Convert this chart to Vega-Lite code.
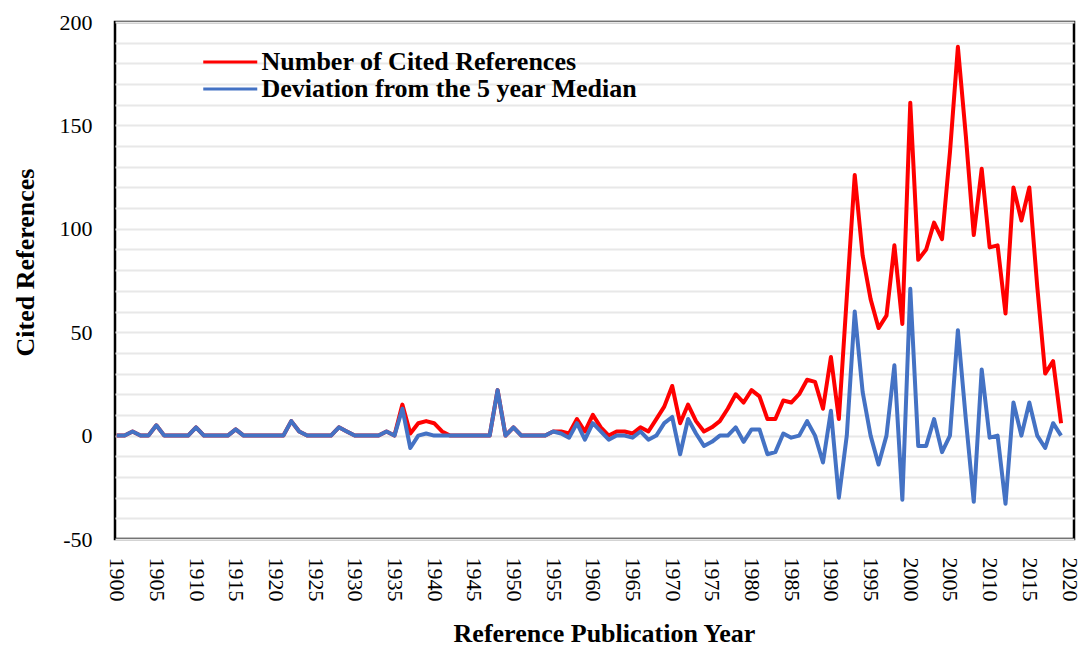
{
  "$schema": "https://vega.github.io/schema/vega-lite/v6.json",
  "width": 959,
  "height": 517,
  "autosize": {"type": "none"},
  "padding": {"left": 115, "top": 22, "right": 8, "bottom": 108},
  "background": "white",
  "config": {
    "font": "Liberation Serif",
    "view": {"stroke": "black", "strokeWidth": 2.5},
    "axis": {"labelFont": "Liberation Serif", "titleFont": "Liberation Serif", "labelColor": "black", "titleColor": "black"}
  },
  "data": {
    "values": [
      {"year": 1900, "cited": 0, "deviation": 0},
      {"year": 1901, "cited": 0, "deviation": 0},
      {"year": 1902, "cited": 2, "deviation": 2},
      {"year": 1903, "cited": 0, "deviation": 0},
      {"year": 1904, "cited": 0, "deviation": 0},
      {"year": 1905, "cited": 5, "deviation": 5},
      {"year": 1906, "cited": 0, "deviation": 0},
      {"year": 1907, "cited": 0, "deviation": 0},
      {"year": 1908, "cited": 0, "deviation": 0},
      {"year": 1909, "cited": 0, "deviation": 0},
      {"year": 1910, "cited": 4, "deviation": 4},
      {"year": 1911, "cited": 0, "deviation": 0},
      {"year": 1912, "cited": 0, "deviation": 0},
      {"year": 1913, "cited": 0, "deviation": 0},
      {"year": 1914, "cited": 0, "deviation": 0},
      {"year": 1915, "cited": 3, "deviation": 3},
      {"year": 1916, "cited": 0, "deviation": 0},
      {"year": 1917, "cited": 0, "deviation": 0},
      {"year": 1918, "cited": 0, "deviation": 0},
      {"year": 1919, "cited": 0, "deviation": 0},
      {"year": 1920, "cited": 0, "deviation": 0},
      {"year": 1921, "cited": 0, "deviation": 0},
      {"year": 1922, "cited": 7, "deviation": 7},
      {"year": 1923, "cited": 2, "deviation": 2},
      {"year": 1924, "cited": 0, "deviation": 0},
      {"year": 1925, "cited": 0, "deviation": 0},
      {"year": 1926, "cited": 0, "deviation": 0},
      {"year": 1927, "cited": 0, "deviation": 0},
      {"year": 1928, "cited": 4, "deviation": 4},
      {"year": 1929, "cited": 2, "deviation": 2},
      {"year": 1930, "cited": 0, "deviation": 0},
      {"year": 1931, "cited": 0, "deviation": 0},
      {"year": 1932, "cited": 0, "deviation": 0},
      {"year": 1933, "cited": 0, "deviation": 0},
      {"year": 1934, "cited": 2, "deviation": 2},
      {"year": 1935, "cited": 0, "deviation": 0},
      {"year": 1936, "cited": 15, "deviation": 13},
      {"year": 1937, "cited": 1, "deviation": -6},
      {"year": 1938, "cited": 6, "deviation": 0},
      {"year": 1939, "cited": 7, "deviation": 1},
      {"year": 1940, "cited": 6, "deviation": 0},
      {"year": 1941, "cited": 2, "deviation": 0},
      {"year": 1942, "cited": 0, "deviation": 0},
      {"year": 1943, "cited": 0, "deviation": 0},
      {"year": 1944, "cited": 0, "deviation": 0},
      {"year": 1945, "cited": 0, "deviation": 0},
      {"year": 1946, "cited": 0, "deviation": 0},
      {"year": 1947, "cited": 0, "deviation": 0},
      {"year": 1948, "cited": 22, "deviation": 22},
      {"year": 1949, "cited": 0, "deviation": 0},
      {"year": 1950, "cited": 4, "deviation": 4},
      {"year": 1951, "cited": 0, "deviation": 0},
      {"year": 1952, "cited": 0, "deviation": 0},
      {"year": 1953, "cited": 0, "deviation": 0},
      {"year": 1954, "cited": 0, "deviation": 0},
      {"year": 1955, "cited": 2, "deviation": 2},
      {"year": 1956, "cited": 2, "deviation": 1},
      {"year": 1957, "cited": 1, "deviation": -1},
      {"year": 1958, "cited": 8, "deviation": 6},
      {"year": 1959, "cited": 2, "deviation": -2},
      {"year": 1960, "cited": 10, "deviation": 6},
      {"year": 1961, "cited": 4, "deviation": 2},
      {"year": 1962, "cited": 0, "deviation": -2},
      {"year": 1963, "cited": 2, "deviation": 0},
      {"year": 1964, "cited": 2, "deviation": 0},
      {"year": 1965, "cited": 1, "deviation": -1},
      {"year": 1966, "cited": 4, "deviation": 2},
      {"year": 1967, "cited": 2, "deviation": -2},
      {"year": 1968, "cited": 8, "deviation": 0},
      {"year": 1969, "cited": 14, "deviation": 6},
      {"year": 1970, "cited": 24, "deviation": 9},
      {"year": 1971, "cited": 6, "deviation": -9},
      {"year": 1972, "cited": 15, "deviation": 8},
      {"year": 1973, "cited": 7, "deviation": 1},
      {"year": 1974, "cited": 2, "deviation": -5},
      {"year": 1975, "cited": 4, "deviation": -3},
      {"year": 1976, "cited": 7, "deviation": 0},
      {"year": 1977, "cited": 13, "deviation": 0},
      {"year": 1978, "cited": 20, "deviation": 4},
      {"year": 1979, "cited": 16, "deviation": -3},
      {"year": 1980, "cited": 22, "deviation": 3},
      {"year": 1981, "cited": 19, "deviation": 3},
      {"year": 1982, "cited": 8, "deviation": -9},
      {"year": 1983, "cited": 8, "deviation": -8},
      {"year": 1984, "cited": 17, "deviation": 1},
      {"year": 1985, "cited": 16, "deviation": -1},
      {"year": 1986, "cited": 20, "deviation": 0},
      {"year": 1987, "cited": 27, "deviation": 7},
      {"year": 1988, "cited": 26, "deviation": 0},
      {"year": 1989, "cited": 13, "deviation": -13},
      {"year": 1990, "cited": 38, "deviation": 12},
      {"year": 1991, "cited": 8, "deviation": -30},
      {"year": 1992, "cited": 67, "deviation": 0},
      {"year": 1993, "cited": 126, "deviation": 60},
      {"year": 1994, "cited": 87, "deviation": 21},
      {"year": 1995, "cited": 66, "deviation": 0},
      {"year": 1996, "cited": 52, "deviation": -14},
      {"year": 1997, "cited": 58, "deviation": 0},
      {"year": 1998, "cited": 92, "deviation": 34},
      {"year": 1999, "cited": 54, "deviation": -31},
      {"year": 2000, "cited": 161, "deviation": 71},
      {"year": 2001, "cited": 85, "deviation": -5},
      {"year": 2002, "cited": 90, "deviation": -5},
      {"year": 2003, "cited": 103, "deviation": 8},
      {"year": 2004, "cited": 95, "deviation": -8},
      {"year": 2005, "cited": 137, "deviation": 0},
      {"year": 2006, "cited": 188, "deviation": 51},
      {"year": 2007, "cited": 145, "deviation": 8},
      {"year": 2008, "cited": 97, "deviation": -32},
      {"year": 2009, "cited": 129, "deviation": 32},
      {"year": 2010, "cited": 91, "deviation": -1},
      {"year": 2011, "cited": 92, "deviation": 0},
      {"year": 2012, "cited": 59, "deviation": -33},
      {"year": 2013, "cited": 120, "deviation": 16},
      {"year": 2014, "cited": 104, "deviation": 0},
      {"year": 2015, "cited": 120, "deviation": 16},
      {"year": 2016, "cited": 72, "deviation": 0},
      {"year": 2017, "cited": 30, "deviation": -6},
      {"year": 2018, "cited": 36, "deviation": 6},
      {"year": 2019, "cited": 6, "deviation": 0}
    ]
  },
  "encoding": {
    "x": {
      "field": "year",
      "type": "quantitative",
      "scale": {"domain": [1899.79, 2020.63], "nice": false, "zero": false},
      "axis": {
        "values": [1900, 1905, 1910, 1915, 1920, 1925, 1930, 1935, 1940, 1945, 1950, 1955, 1960, 1965, 1970, 1975, 1980, 1985, 1990, 1995, 2000, 2005, 2010, 2015, 2020],
        "format": "d",
        "labelAngle": 90,
        "labelFontSize": 22,
        "labelPadding": 18,
        "ticks": false,
        "tickSize": 0,
        "domain": false,
        "grid": false,
        "title": "Reference Publication Year",
        "titleFontSize": 26,
        "titleFontWeight": "bold",
        "titleX": 489,
        "titleY": 107,
        "titleAlign": "center",
        "titleBaseline": "bottom",
        "labelOverlap": false
      }
    },
    "y": {
      "field": "value",
      "type": "quantitative",
      "scale": {"domain": [-50, 200], "nice": false, "zero": false},
      "axis": {
        "values": [-50, -40, -30, -20, -10, 0, 10, 20, 30, 40, 50, 60, 70, 80, 90, 100, 110, 120, 130, 140, 150, 160, 170, 180, 190, 200],
        "labelExpr": "datum.value % 50 == 0 ? '' + datum.value : ''",
        "labelFontSize": 22,
        "labelPadding": 23,
        "ticks": false,
        "tickSize": 0,
        "domain": false,
        "grid": true,
        "gridColor": "#e8e8e8",
        "gridWidth": 2,
        "title": "Cited References",
        "titleFontSize": 26,
        "titleFontWeight": "bold",
        "titleAngle": -90,
        "titleX": -82,
        "titleY": 240,
        "titleAlign": "center",
        "titleBaseline": "alphabetic",
        "labelOverlap": false
      }
    }
  },
  "layer": [
    {
      "mark": {"type": "rule", "color": "black", "strokeWidth": 2},
      "encoding": {"y": {"datum": 0, "type": "quantitative"}, "x": null}
    },
    {
      "transform": [{"fold": ["cited", "deviation"], "as": ["series", "value"]}],
      "mark": {"type": "line", "strokeWidth": 4, "strokeJoin": "round"},
      "encoding": {
        "color": {
          "field": "series",
          "type": "nominal",
          "scale": {"domain": ["cited", "deviation"], "range": ["#FF0000", "#4472C4"]},
          "legend": {
            "orient": "none",
            "legendX": 82,
            "legendY": 27,
            "title": null,
            "padding": 0,
            "labelExpr": "datum.value == 'cited' ? 'Number of Cited References' : 'Deviation from the 5 year Median'",
            "labelFont": "Liberation Serif",
            "labelFontSize": 26,
            "labelFontWeight": "bold",
            "labelColor": "black",
            "labelOffset": 38.5,
            "labelLimit": 600,
            "symbolType": "M-1,0H7",
            "symbolSize": 182.25,
            "symbolStrokeWidth": 3,
            "rowPadding": 1
          }
        }
      }
    }
  ]
}
